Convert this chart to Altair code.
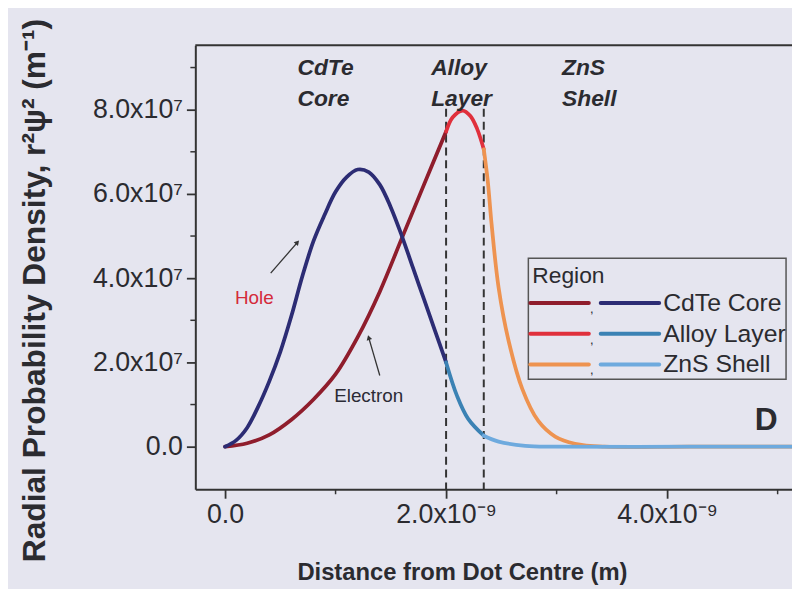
import math
import altair as alt
import pandas as pd

# ---------------- data ----------------
regions = ["CdTe Core", "Alloy Layer", "ZnS Shell"]
region_edges_nm = [0.0, 2.0, 2.341]          # core | alloy | shell boundaries

electron_x_nm = [0, 0.2, 0.4, 0.6, 0.8, 1.0, 1.2, 1.4, 1.6, 1.8, 2.0,
                 2.06, 2.15, 2.22, 2.28, 2.341, 2.377, 2.413, 2.475, 2.565,
                 2.691, 2.834, 2.987, 3.166, 3.435, 4.2, 5.2]
electron_y_1e7 = [0, 0.08, 0.28, 0.64, 1.12, 1.72, 2.60, 3.68, 4.95, 6.22, 7.48,
                  7.82, 7.98, 7.85, 7.55, 7.06, 6.31, 5.25, 3.78, 2.52,
                  1.36, 0.61, 0.24, 0.07, 0.0, 0.0, 0.0]

hole_x_nm = [0, 0.1, 0.2, 0.3, 0.4, 0.5, 0.6, 0.7, 0.8, 0.9, 1.0, 1.1, 1.2, 1.3,
             1.4, 1.5, 1.6, 1.7, 1.8, 1.9, 2.0, 2.1, 2.2, 2.341, 2.475, 2.717,
             2.987, 4.2, 5.2]
hole_y_1e7 = [0, 0.15, 0.45, 0.95, 1.55, 2.25, 3.10, 4.05, 4.88, 5.50, 6.05, 6.40,
              6.58, 6.52, 6.22, 5.68, 5.00, 4.25, 3.50, 2.75, 2.0, 1.20, 0.66, 0.26,
              0.12, 0.02, 0.0, 0.0, 0.0]

electron_colors = ["#8f1d2c", "#e0303c", "#ee9350"]
hole_colors = ["#2c2c74", "#3b82b4", "#6eaade"]

x_ticks = [0, 2e-9, 4e-9]
x_minor = [1e-9, 3e-9, 5e-9]
y_ticks = [0, 2e7, 4e7, 6e7, 8e7]
y_minor = [1e7, 3e7, 5e7, 7e7, 9e7]

# region labels (two lines each)
region_label_top = ["CdTe", "Alloy", "ZnS"]
region_label_bottom = ["Core", "Layer", "Shell"]
region_label_x_nm = [0.655, 1.865, 3.049]
region_label_y_1e7 = [8.99, 8.26]

# particle annotations and arrows
annot_text = ["Hole", "Electron"]
annot_color = ["#d42a3a", "#2b2b35"]
annot_x_nm = [0.09, 0.987]
annot_y_1e7 = [3.53, 1.20]
arrow_x0_nm = [0.413, 1.40]
arrow_y0_1e7 = [4.12, 1.69]
arrow_x1_nm = [0.655, 1.30]
arrow_y1_1e7 = [4.85, 2.59]

panel_label = "D"
panel_x_nm = 4.897
panel_y_1e7 = 0.64
boundary_top_1e7 = 8.02

# ---------------- layout ----------------
W, H = 602, 448
X_DOM = [-0.269e-9, 5.13e-9]
Y_DOM = [-1.012e7, 9.529e7]
BG = "#e5e5ef"
INK = "#2b2b30"
FONT = "Liberation Sans"

xs = alt.Scale(domain=X_DOM, nice=False, zero=False)
ys = alt.Scale(domain=Y_DOM, nice=False, zero=False)
x_axis = alt.Axis(values=x_ticks, title="Distance from Dot Centre (m)",
                  labelExpr="datum.value == 0 ? '0.0' : format(datum.value / 1e-9, '.1f') + 'x10⁻⁹'",
                  titleX=269, titleY=91, titleBaseline="alphabetic", titleAlign="center",
                  titleFontSize=24, labelPadding=4)
y_axis = alt.Axis(values=y_ticks, title="Radial Probability Density, r²ψ² (m⁻¹)",
                  labelExpr="datum.value == 0 ? '0.0' : format(datum.value / 1e7, '.1f') + 'x10⁷'",
                  titleX=-162, titleY=247, titleAngle=270, titleBaseline="middle",
                  titleAlign="center", titleFontSize=32, labelPadding=4)
X = alt.X("x:Q", scale=xs, axis=x_axis)
Y = alt.Y("y:Q", scale=ys, axis=y_axis)

# ---------------- curve table ----------------
def segments(series, xv, yv):
    rows = []
    for i, reg in enumerate(regions):
        lo = region_edges_nm[i]
        hi = region_edges_nm[i + 1] if i + 1 < len(region_edges_nm) else float("inf")
        for a, b in zip(xv, yv):
            if lo <= a <= hi:
                rows.append({"series": series, "key": f"{series} {reg}",
                             "x": a * 1e-9, "y": b * 1e7})
    return pd.DataFrame(rows)

df_e = segments("Electron", electron_x_nm, electron_y_1e7)
df_h = segments("Hole", hole_x_nm, hole_y_1e7)
keys = [f"Electron {r}" for r in regions] + [f"Hole {r}" for r in regions]
cscale = alt.Scale(domain=keys, range=electron_colors + hole_colors)

def curve(df):
    return alt.Chart(df).mark_line(strokeWidth=3.8, interpolate="catmull-rom", clip=True,
                                   strokeCap="round", strokeJoin="round").encode(
        x=X, y=Y, color=alt.Color("key:N", scale=cscale, legend=None), detail="key:N")

electron_layer = curve(df_e)
hole_layer = curve(df_h)

# boundaries
df_b = pd.DataFrame({"x": [e * 1e-9 for e in region_edges_nm[1:]],
                     "y": [boundary_top_1e7 * 1e7] * 2})
bounds = alt.Chart(df_b).mark_rule(color="#333", strokeWidth=2, strokeDash=[8, 5]).encode(
    x=X, y=Y, y2=alt.value(H))

# minor ticks
df_ym = pd.DataFrame({"y": y_minor})
ymin = alt.Chart(df_ym).mark_rule(color="#333", strokeWidth=1.5).encode(
    y=Y, x=alt.value(-5), x2=alt.value(0))
df_xm = pd.DataFrame({"x": x_minor})
xmin = alt.Chart(df_xm).mark_rule(color="#333", strokeWidth=1.5).encode(
    x=X, y=alt.value(H), y2=alt.value(H + 5))

# top frame
top = alt.Chart(pd.DataFrame({"a": [0]})).mark_rule(color="#333", strokeWidth=2).encode(
    x=alt.value(0), x2=alt.value(W), y=alt.value(0))

# region labels
df_rl = pd.DataFrame({
    "x": [v * 1e-9 for v in region_label_x_nm] * 2,
    "y": [region_label_y_1e7[0] * 1e7] * 3 + [region_label_y_1e7[1] * 1e7] * 3,
    "t": region_label_top + region_label_bottom})
rlab = alt.Chart(df_rl).mark_text(font=FONT, fontSize=23, fontWeight="bold", fontStyle="italic",
                                  align="left", baseline="middle", color=INK).encode(
    x=X, y=Y, text="t:N")

# annotations
df_an = pd.DataFrame({"x": [v * 1e-9 for v in annot_x_nm],
                      "y": [v * 1e7 for v in annot_y_1e7],
                      "t": annot_text, "c": annot_color})
annot = alt.Chart(df_an).mark_text(font=FONT, fontSize=19, align="left", baseline="middle").encode(
    x=X, y=Y, text="t:N", color=alt.Color("c:N", scale=None))

# arrows
px_per_x = W / (X_DOM[1] - X_DOM[0])
px_per_y = H / (Y_DOM[1] - Y_DOM[0])
angles = []
for a0, b0, a1, b1 in zip(arrow_x0_nm, arrow_y0_1e7, arrow_x1_nm, arrow_y1_1e7):
    dx = (a1 - a0) * 1e-9 * px_per_x
    dy = (b1 - b0) * 1e7 * px_per_y
    angles.append(math.degrees(math.atan2(dx, dy)) % 360)
df_ar = pd.DataFrame({"x": [v * 1e-9 for v in arrow_x0_nm], "y": [v * 1e7 for v in arrow_y0_1e7],
                      "x2": [v * 1e-9 for v in arrow_x1_nm], "y2": [v * 1e7 for v in arrow_y1_1e7],
                      "ang": angles})
arrow_shaft = alt.Chart(df_ar).mark_rule(color="#333", strokeWidth=1.3).encode(
    x=X, y=Y, x2="x2:Q", y2="y2:Q")
arrow_head = alt.Chart(df_ar).mark_point(shape="triangle-up", filled=True, size=32,
                                         color="#333", opacity=1).encode(
    x=alt.X("x2:Q", scale=xs, axis=x_axis), y=alt.Y("y2:Q", scale=ys, axis=y_axis),
    angle=alt.Angle("ang:Q", scale=None))

# panel label
df_p = pd.DataFrame({"x": [panel_x_nm * 1e-9], "y": [panel_y_1e7 * 1e7], "t": [panel_label]})
plab = alt.Chart(df_p).mark_text(font=FONT, fontSize=32, fontWeight="bold", color=INK,
                                 align="center", baseline="middle").encode(x=X, y=Y, text="t:N")

# custom legend (two swatches per region)
LX0, LX1, LY0, LY1 = 336, 596, 215, 337
legend_layers = [
    alt.Chart(pd.DataFrame({"a": [0]})).mark_rect(fillOpacity=0, stroke="#555", strokeWidth=1.5).encode(
        x=alt.value(LX0), x2=alt.value(LX1), y=alt.value(LY0), y2=alt.value(LY1)),
    alt.Chart(pd.DataFrame({"a": [0]})).mark_text(font=FONT, fontSize=23, align="left",
                                                  baseline="middle", color=INK).encode(
        x=alt.value(LX0 + 4), y=alt.value(LY0 + 18), text=alt.value("Region")),
]
for i, reg in enumerate(regions):
    ry = LY0 + 45 + i * 31
    legend_layers += [
        alt.Chart(pd.DataFrame({"a": [0]})).mark_rule(strokeWidth=4, color=electron_colors[i],
                                                      strokeCap="round").encode(
            x=alt.value(LX0 + 2), x2=alt.value(LX0 + 61), y=alt.value(ry)),
        alt.Chart(pd.DataFrame({"a": [0]})).mark_text(font=FONT, fontSize=13, color=INK).encode(
            x=alt.value(LX0 + 64), y=alt.value(ry + 6), text=alt.value(",")),
        alt.Chart(pd.DataFrame({"a": [0]})).mark_rule(strokeWidth=4, color=hole_colors[i],
                                                      strokeCap="round").encode(
            x=alt.value(LX0 + 73), x2=alt.value(LX0 + 132), y=alt.value(ry)),
        alt.Chart(pd.DataFrame({"a": [0]})).mark_text(font=FONT, fontSize=25, align="left",
                                                      baseline="middle", color=INK).encode(
            x=alt.value(LX0 + 136), y=alt.value(ry), text=alt.value(reg)),
    ]

chart = alt.layer(
    bounds, ymin, xmin, top, electron_layer, hole_layer, rlab, annot,
    arrow_shaft, arrow_head, plab, *legend_layers
).properties(
    width=W, height=H,
    padding={"left": 189, "top": 35, "right": 0, "bottom": 98},
    autosize=alt.AutoSizeParams(type="none"),
    background=BG,
).configure_view(strokeWidth=0).configure_axis(
    grid=False, labelFont=FONT, titleFont=FONT, labelFontSize=27, labelColor=INK,
    titleColor=INK, titleFontWeight="bold", domainColor="#333", domainWidth=2,
    tickColor="#333", tickWidth=1.8, tickSize=9,
)

chart.save("out.html", embed_options={"renderer": "svg", "actions": False})
